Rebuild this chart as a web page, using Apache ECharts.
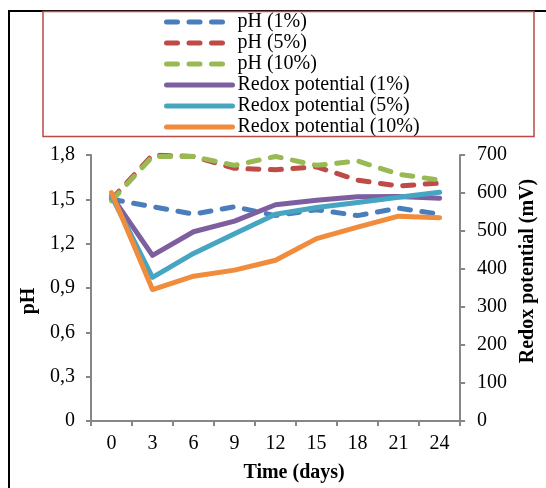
<!DOCTYPE html>
<html>
<head>
<meta charset="utf-8">
<script src="https://cdn.jsdelivr.net/npm/echarts@6/dist/echarts.min.js"></script>
<style>
html,body{margin:0;padding:0;background:#fff;}
#chart{width:546px;height:488px;}
</style>
</head>
<body>
<div id="chart"></div>
<script>
const days = ['0','3','6','9','12','15','18','21','24'];
const pH1 = [1.50, 1.45, 1.40, 1.45, 1.39, 1.43, 1.39, 1.44, 1.40];
const pH5 = [1.50, 1.80, 1.79, 1.71, 1.70, 1.72, 1.63, 1.59, 1.61];
const pH10 = [1.49, 1.79, 1.79, 1.73, 1.79, 1.73, 1.76, 1.67, 1.63];
const redox1 = [592, 436, 498, 526, 569, 581, 590, 591, 586];
const redox5 = [592, 378, 441, 493, 544, 562, 575, 589, 602];
const redox10 = [601, 346, 381, 397, 423, 480, 510, 539, 535];
const pHTicks = {min: 0, max: 1.8, interval: 0.3};
const redoxTicks = {min: 0, max: 700, interval: 100};

const FONT = '"Liberation Serif", "Times New Roman", serif';
const AX = '#868686';
const FS = 20;
const LW = 5;

const chart = echarts.init(document.getElementById('chart'), null, {renderer: 'canvas'});

function dashed(name, data, color) {
  return {
    name: name, type: 'line', yAxisIndex: 0, data: data,
    symbol: 'none', showSymbol: false,
    lineStyle: {color: color, width: LW, type: [11, 11.5], cap: 'round'},
    itemStyle: {color: color}
  };
}
function solid(name, data, color) {
  return {
    name: name, type: 'line', yAxisIndex: 1, data: data,
    symbol: 'none', showSymbol: false,
    lineStyle: {color: color, width: LW, cap: 'round', join: 'round'},
    itemStyle: {color: color}
  };
}

chart.setOption({
  animation: false,
  backgroundColor: '#ffffff',
  textStyle: {fontFamily: FONT, color: '#000'},
  graphic: [
    {type: 'rect', shape: {x: 9, y: 11, width: 700, height: 700},
     style: {fill: 'none', stroke: '#000', lineWidth: 2}, z: 100},
    {type: 'rect', shape: {x: 43, y: 11.5, width: 491, height: 125},
     style: {fill: 'none', stroke: '#b94a48', lineWidth: 1.5}, z: 100}
  ],
  legend: {
    orient: 'vertical', left: 164, top: 12,
    itemWidth: 66, itemHeight: 16, itemGap: 1, padding: 0,
    itemStyle: {opacity: 0, borderWidth: 0},
    lineStyle: {width: LW, cap: 'round'},
    textStyle: {fontFamily: FONT, fontSize: FS, lineHeight: 20, color: '#000'},
    data: ['pH (1%)', 'pH (5%)', 'pH (10%)', 'Redox potential (1%)', 'Redox potential (5%)', 'Redox potential (10%)']
  },
  grid: {left: 91, right: 70, top: 155, bottom: 63, containLabel: false},
  xAxis: {
    type: 'category', data: days, boundaryGap: true,
    name: 'Time (days)', nameLocation: 'middle', nameGap: 42,
    nameTextStyle: {fontFamily: FONT, fontSize: FS, fontWeight: 'bold', color: '#000', padding: [0, 0, 0, 37]},
    axisLine: {lineStyle: {color: AX, width: 2}},
    axisTick: {show: true, interval: 0, length: 5, lineStyle: {color: AX, width: 2}},
    axisLabel: {fontFamily: FONT, fontSize: FS, color: '#000', margin: 12.5, interval: 0},
    splitLine: {show: false}
  },
  yAxis: [
    {
      type: 'value', position: 'left', min: pHTicks.min, max: pHTicks.max, interval: pHTicks.interval,
      name: 'pH', nameLocation: 'middle', nameGap: 46, nameRotate: 90,
      nameTextStyle: {fontFamily: FONT, fontSize: FS, fontWeight: 'bold', color: '#000', padding: [0, 26, 0, 0]},
      axisLine: {show: true, lineStyle: {color: AX, width: 2}},
      axisTick: {show: true, length: 5, lineStyle: {color: AX, width: 2}},
      axisLabel: {fontFamily: FONT, fontSize: FS, color: '#000', margin: 16,
        formatter: function (v) { return v === 0 ? '0' : v.toFixed(1).replace('.', ','); }},
      splitLine: {show: false}
    },
    {
      type: 'value', position: 'right', min: redoxTicks.min, max: redoxTicks.max, interval: redoxTicks.interval,
      name: 'Redox potential (mV)', nameLocation: 'middle', nameGap: 51, nameRotate: 90,
      nameTextStyle: {fontFamily: FONT, fontSize: FS, fontWeight: 'bold', color: '#000', padding: [0, 0, 0, 34]},
      axisLine: {show: true, lineStyle: {color: AX, width: 2}},
      axisTick: {show: true, length: 5, lineStyle: {color: AX, width: 2}},
      axisLabel: {fontFamily: FONT, fontSize: FS, color: '#000', margin: 17},
      splitLine: {show: false}
    }
  ],
  series: [
    dashed('pH (1%)', pH1, '#4a7ebb'),
    dashed('pH (5%)', pH5, '#be4b48'),
    dashed('pH (10%)', pH10, '#98b954'),
    solid('Redox potential (1%)', redox1, '#7d5fa0'),
    solid('Redox potential (5%)', redox5, '#46a5c0'),
    solid('Redox potential (10%)', redox10, '#f08c3c')
  ]
});
</script>
</body>
</html>
